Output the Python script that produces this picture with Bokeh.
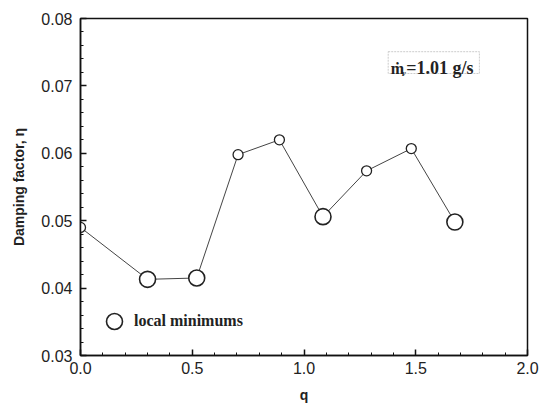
from bokeh.plotting import figure
from bokeh.models import (FixedTicker, PrintfTickFormatter, Legend, LegendItem,
                          Label, BoxAnnotation, ColumnDataSource)
from bokeh.embed import file_html
from bokeh.resources import INLINE

# ---- data ----
q = [0.0, 0.30, 0.52, 0.705, 0.89, 1.085, 1.28, 1.48, 1.675]
eta = [0.0490, 0.0413, 0.0415, 0.0598, 0.0620, 0.0506, 0.0574, 0.0607, 0.0498]
is_min = [False, True, True, False, False, True, False, False, True]
x_major = [0.0, 0.5, 1.0, 1.5, 2.0]
y_major = [0.03, 0.04, 0.05, 0.06, 0.07, 0.08]
x_minor = [round(0.1 * i, 2) for i in range(21)]
y_minor = [round(0.03 + 0.002 * i, 4) for i in range(26)]

p = figure(width=547, height=405, output_backend="svg", toolbar_location=None,
           x_range=(0, 2), y_range=(0.03, 0.08),
           min_border_left=80, min_border_right=20, min_border_top=18,
           min_border_bottom=48)
p.grid.visible = False
p.background_fill_color = "white"
p.border_fill_color = "white"
p.outline_line_color = "#111111"
p.outline_line_width = 1.5

src = ColumnDataSource(dict(q=q, eta=eta))
p.line("q", "eta", source=src, line_color="#444444", line_width=1)

qs = [a for a, m in zip(q, is_min) if not m]
es = [b for b, m in zip(eta, is_min) if not m]
qm = [a for a, m in zip(q, is_min) if m]
em = [b for b, m in zip(eta, is_min) if m]
p.scatter(qs, es, size=10, marker="circle", fill_color="white",
          line_color="#222222", line_width=1.3)
r_min = p.scatter(qm, em, size=16, marker="circle", fill_color="white",
                  line_color="#222222", line_width=1.6)

for ax in (p.xaxis[0], p.yaxis[0]):
    ax.axis_line_width = 1.5
    ax.axis_line_color = "#111111"
    ax.major_tick_in = 6
    ax.major_tick_out = 0
    ax.minor_tick_in = 3
    ax.minor_tick_out = 0
    ax.major_tick_line_color = "#111111"
    ax.minor_tick_line_color = "#111111"
    ax.major_tick_line_width = 1.5
    ax.major_label_text_font = "Liberation Sans"
    ax.major_label_text_font_size = "16px"
    ax.major_label_text_color = "#222222"
    ax.axis_label_text_font = "Liberation Sans"
    ax.axis_label_text_font_style = "bold"
    ax.axis_label_text_color = "#222222"

p.xaxis.ticker = FixedTicker(ticks=x_major, minor_ticks=x_minor)
p.yaxis.ticker = FixedTicker(ticks=y_major, minor_ticks=y_minor)
p.xaxis.formatter = PrintfTickFormatter(format="%.1f")
p.yaxis.formatter = PrintfTickFormatter(format="%.2f")
p.xaxis.axis_label = "q"
p.yaxis.axis_label = "Damping factor, η"
p.xaxis.axis_label_text_font_size = "14px"
p.yaxis.axis_label_text_font_size = "14px"
p.xaxis.major_label_standoff = 6
p.xaxis.axis_label_standoff = 10
p.yaxis.major_label_standoff = 8
p.yaxis.axis_label_standoff = 11

legend = Legend(items=[LegendItem(label="local minimums", renderers=[r_min])],
                location=(14, 14), glyph_width=40, glyph_height=40,
                label_standoff=0, padding=0, margin=0, border_line_color=None,
                background_fill_alpha=0,
                label_text_font="Liberation Serif", label_text_font_style="bold",
                label_text_font_size="16px", label_text_color="#222222")
p.add_layout(legend, "center")

# annotation box: m-dot_F = 1.01 g/s
p.add_layout(BoxAnnotation(left=1.3767, right=1.7848, bottom=0.071838, top=0.075074,
                           fill_color="white", fill_alpha=1,
                           line_color="#555555", line_width=1, line_dash="2 1",
                           level="annotation"))
font = "Liberation Serif"
p.add_layout(Label(x=1.388, y=0.07265, text="ṁ", text_font=font,
                   text_font_style="bold", text_font_size="16px",
                   text_color="#222222", text_baseline="alphabetic"))
p.add_layout(Label(x=1.437, y=0.07170, text="F", text_font=font,
                   text_font_style="bold", text_font_size="7px",
                   text_color="#222222", text_baseline="alphabetic"))
p.add_layout(Label(x=1.457, y=0.07265, text="=1.01 g/s", text_font=font,
                   text_font_style="bold", text_font_size="18px",
                   text_color="#222222", text_baseline="alphabetic"))

open("out.html", "w").write(file_html(p, INLINE))
